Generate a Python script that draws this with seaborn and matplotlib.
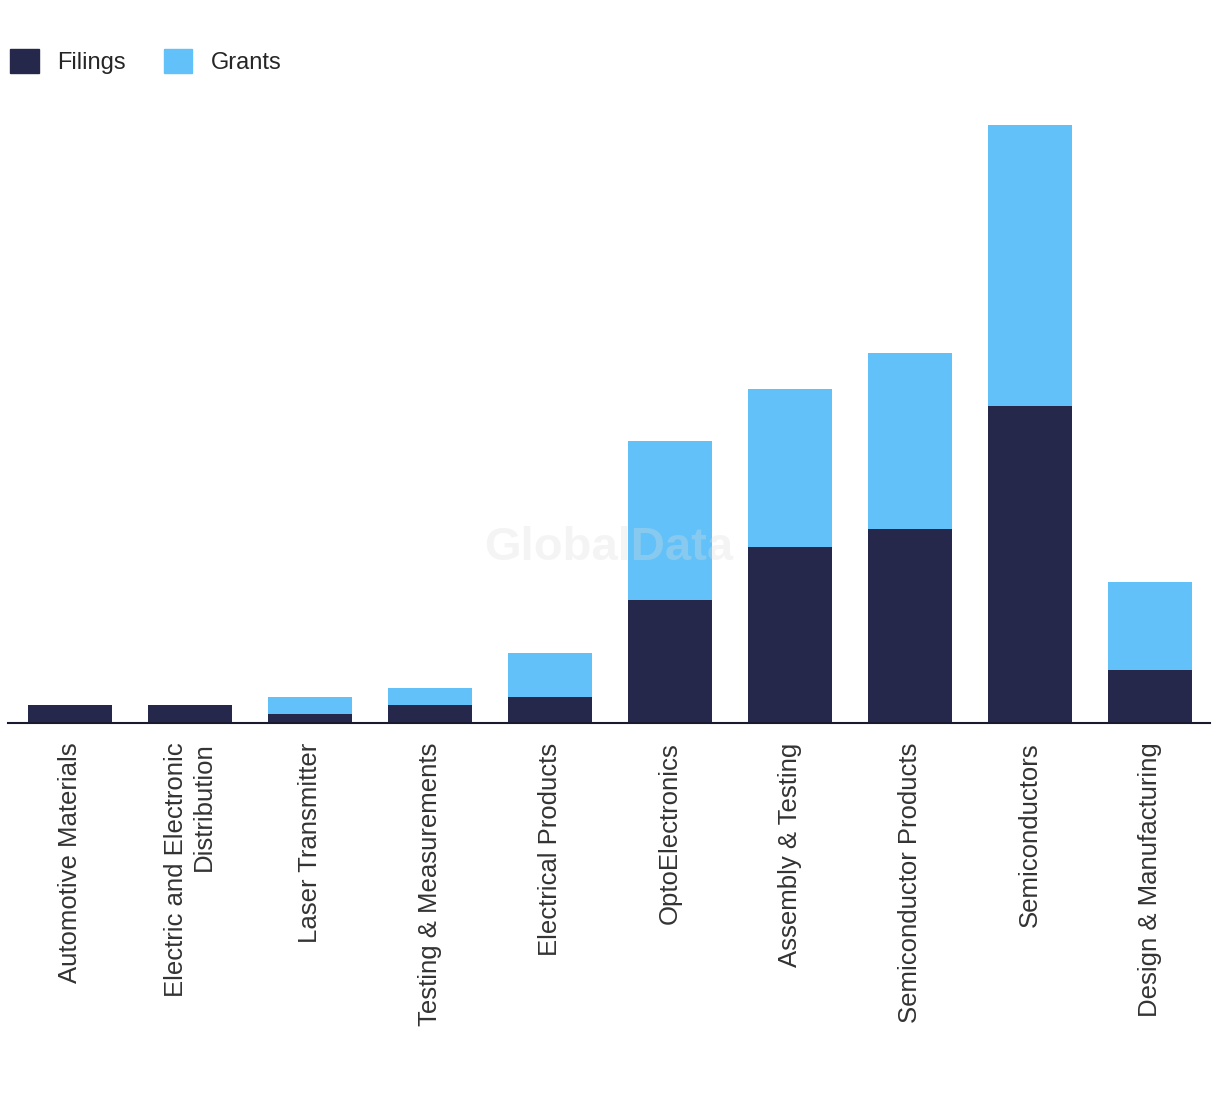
import matplotlib
matplotlib.use("Agg")
import matplotlib.pyplot as plt
import seaborn as sns
import pandas as pd
from matplotlib.patches import Patch

# Data
sectors = ["Automotive Materials", "Electric and Electronic\nDistribution",
           "Laser Transmitter", "Testing & Measurements", "Electrical Products",
           "OptoElectronics", "Assembly & Testing", "Semiconductor Products",
           "Semiconductors", "Design & Manufacturing"]
filings = [2, 2, 1, 2, 3, 14, 20, 22, 36, 6]
grants = [0, 0, 2, 2, 5, 18, 18, 20, 32, 10]

df = pd.DataFrame({"Sector": sectors, "Filings": filings, "Grants": grants})
df["Total"] = df["Filings"] + df["Grants"]

dark = "#26284b"
light = "#62c1f8"

sns.set_style("white")
plt.rcParams["font.family"] = ["Liberation Sans", "DejaVu Sans"]

fig = plt.figure(figsize=(12.2, 10.94), dpi=100)
ax = fig.add_axes([8 / 1220, 1 - 723 / 1094, 1202 / 1220, 633 / 1094])

# stacked: total first, filings drawn over it
sns.barplot(data=df, x="Sector", y="Total", color=light, width=0.7,
            saturation=1, linewidth=0, ax=ax)
sns.barplot(data=df, x="Sector", y="Filings", color=dark, width=0.7,
            saturation=1, linewidth=0, ax=ax)

ax.set_xlim(-0.52, 9.5)
ax.set_ylim(0, 633 / 8.8)
ax.set_xlabel("")
ax.set_ylabel("")
ax.set_yticks([])
for s in ["top", "right", "left"]:
    ax.spines[s].set_visible(False)
ax.spines["bottom"].set_color("#1a1a2e")
ax.spines["bottom"].set_linewidth(1.5)
ax.tick_params(axis="x", length=0, pad=14)
for lbl in ax.get_xticklabels():
    lbl.set_rotation(90)
    lbl.set_va("top")
    lbl.set_ha("center")
    lbl.set_multialignment("right")
    lbl.set_fontsize(18.5)
    lbl.set_color("#333333")

# watermark
ax.text(0.5, 0.277, "GlobalData", transform=ax.transAxes, ha="center",
        va="center", fontsize=34, fontweight="bold", color="#dddddd",
        alpha=0.3, zorder=10)

handles = [Patch(color=dark, label="Filings"), Patch(color=light, label="Grants")]
fig.legend(handles=handles, loc="upper left", bbox_to_anchor=(-0.009, 0.975),
           ncol=2, frameon=False, fontsize=17, handlelength=1.2,
           handleheight=1.2, handletextpad=0.8, columnspacing=1.6)

fig.savefig("out.png", dpi=100)
